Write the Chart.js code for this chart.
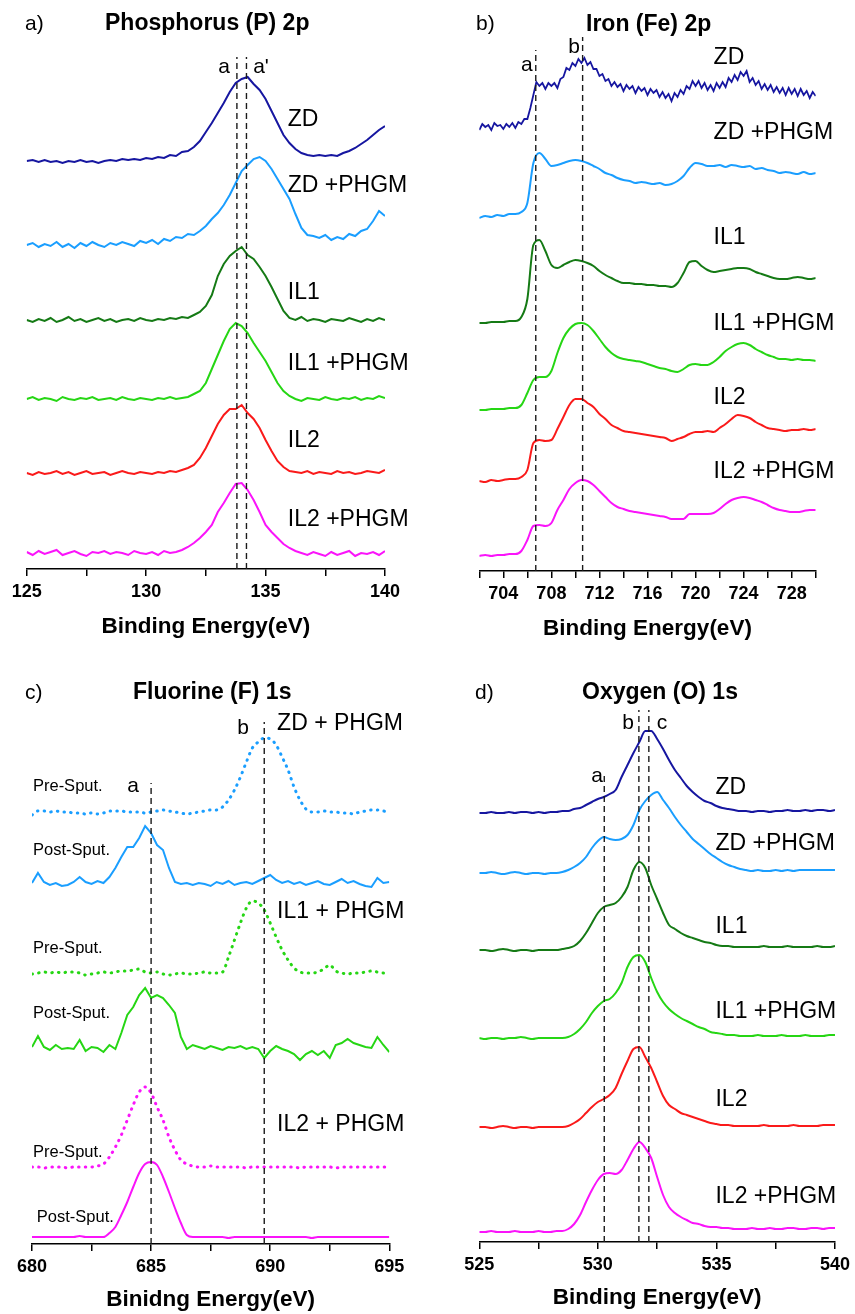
<!DOCTYPE html>
<html>
<head>
<meta charset="utf-8">
<script src="https://cdn.jsdelivr.net/npm/chart.js@4.4.1/dist/chart.umd.min.js"></script>
<style>
html,body{margin:0;padding:0;background:#fff;}
#wrap{position:relative;width:855px;height:1314px;overflow:hidden;background:#fff;}
canvas{position:absolute;}
</style>
</head>
<body>
<div id="wrap">
<canvas id="cA" width="427" height="650" style="left:0;top:0"></canvas>
<canvas id="cB" width="428" height="650" style="left:427px;top:0"></canvas>
<canvas id="cC" width="427" height="657" style="left:0;top:657px"></canvas>
<canvas id="cD" width="428" height="657" style="left:427px;top:657px"></canvas>
</div>
<script>
// ---------------- DATA ----------------
// a) Phosphorus 2p
const energyP = [125,125.25,125.5,125.75,126,126.25,126.5,126.75,127,127.25,127.5,127.75,128,128.25,128.5,128.75,129,129.25,129.5,129.75,130,130.25,130.5,130.75,131,131.25,131.5,131.75,132,132.25,132.5,132.75,133,133.25,133.5,133.75,134,134.25,134.5,134.75,135,135.25,135.5,135.75,136,136.25,136.5,136.75,137,137.25,137.5,137.75,138,138.25,138.5,138.75,139,139.25,139.5,139.75,140];
const P_ZD = [408,409,407,409,407,408,406,408,407,409,407,408,406,408,409,408,410,409,410,409,411,410,412,411,414,413,417,418,422,428,437,446,456,466,477,486,490,492,485,479,470,458,446,434,426,420,416,414,413,414,413,414,413,416,418,421,425,429,434,439,443];
const P_ZD_PHGM = [324,326,322,325,323,327,322,325,321,326,323,327,324,322,326,324,327,325,323,328,326,329,325,330,328,332,331,335,334,338,343,350,356,364,374,386,398,404,410,412,408,400,390,380,370,355,341,334,333,331,334,329,332,330,335,333,338,340,348,358,353];
const P_IL1 = [249,247,250,248,251,247,249,252,248,250,247,249,251,248,250,247,249,250,248,251,249,248,250,249,251,250,252,251,254,257,263,274,293,305,313,318,322,314,310,302,293,282,270,258,251,249,252,248,250,249,247,250,249,248,251,249,247,250,248,251,249];
const P_IL1_PHGM = [170,172,169,171,170,168,172,170,169,171,170,172,169,170,171,169,172,170,169,171,170,169,171,170,172,170,171,172,175,178,186,200,214,228,240,246,243,236,226,217,208,197,186,178,173,170,168,171,170,169,172,170,169,171,170,172,169,171,170,173,171];
const P_IL2 = [96,94,97,95,96,98,95,97,94,96,98,95,96,97,94,96,98,96,95,97,96,95,97,96,98,97,99,101,104,111,121,133,145,154,160,160,164,156,150,141,129,118,108,102,98,97,96,98,95,97,96,95,98,96,97,95,96,98,97,96,99];
const P_IL2_PHGM = [17,14,18,15,17,19,14,16,18,15,13,17,16,18,15,17,16,14,18,16,15,17,14,18,16,17,19,22,26,31,37,44,57,66,76,85,86,79,69,57,44,37,31,25,21,18,16,14,17,15,13,17,14,16,18,13,16,15,17,14,18];
const peaksP = [133.8, 134.2];
const ticksP = [125, 130, 135, 140];

// b) Iron 2p
const energyFeFine = [702,702.25,702.5,702.75,703,703.25,703.5,703.75,704,704.25,704.5,704.75,705,705.25,705.5,705.75,706,706.25,706.5,706.75,707,707.25,707.5,707.75,708,708.25,708.5,708.75,709,709.25,709.5,709.75,710,710.25,710.5,710.75,711,711.25,711.5,711.75,712,712.25,712.5,712.75,713,713.25,713.5,713.75,714,714.25,714.5,714.75,715,715.25,715.5,715.75,716,716.25,716.5,716.75,717,717.25,717.5,717.75,718,718.25,718.5,718.75,719,719.25,719.5,719.75,720,720.25,720.5,720.75,721,721.25,721.5,721.75,722,722.25,722.5,722.75,723,723.25,723.5,723.75,724,724.25,724.5,724.75,725,725.25,725.5,725.75,726,726.25,726.5,726.75,727,727.25,727.5,727.75,728,728.25,728.5,728.75,729,729.25,729.5,729.75,730];
const Fe_ZD = [441,447,444,446,441,448,445,446,442,447,444,448,443,449,447,452,452,463,476,489,485,488,482,488,485,488,483,492,494,503,501,508,505,512,508,513,506,509,502,502,495,497,490,492,485,489,484,487,480,486,482,485,478,484,480,483,476,482,478,481,474,479,473,477,470,478,474,481,477,485,482,490,485,490,483,488,481,486,480,488,483,489,484,493,489,496,491,499,495,500,489,493,486,490,482,487,481,486,479,484,478,483,476,483,477,482,475,482,476,480,473,479,475];
const energyFe = [702,702.5,703,703.5,704,704.5,705,705.5,706,706.5,707,707.5,708,708.5,709,709.5,710,710.5,711,711.5,712,712.5,713,713.5,714,714.5,715,715.5,716,716.5,717,717.5,718,718.5,719,719.5,720,720.5,721,721.5,722,722.5,723,723.5,724,724.5,725,725.5,726,726.5,727,727.5,728,728.5,729,729.5,730];
const Fe_ZD_PHGM = [353,355,354,356,355,357,357,359,368,408,418,412,405,406,408,410,411,410,408,405,402,398,396,393,391,390,388,389,388,387,388,386,387,390,395,403,408,407,405,405,406,404,406,405,404,405,402,403,401,400,398,399,398,397,399,397,398];
const Fe_IL1 = [248,248,249,249,249,250,250,254,272,326,331,320,306,303,306,309,311,310,308,305,300,296,293,290,288,288,287,287,286,286,285,285,284,288,298,309,310,305,301,299,300,301,302,303,303,302,299,297,295,293,292,292,293,294,293,292,293];
const Fe_IL1_PHGM = [161,161,162,162,162,163,163,166,178,191,194,194,200,218,233,242,247,248,246,240,232,224,218,214,212,211,210,209,207,205,203,202,200,199,202,206,207,206,206,209,214,220,224,227,228,226,222,219,216,214,212,212,211,212,211,211,210];
const Fe_IL2 = [90,89,91,90,91,92,92,94,101,128,131,130,131,142,154,166,172,172,168,164,157,152,146,143,140,139,138,137,136,135,134,133,130,132,134,137,139,139,140,139,143,147,152,156,155,153,149,146,143,142,141,140,141,141,142,141,142];
const Fe_IL2_PHGM = [15,16,15,16,16,17,17,20,31,45,46,45,48,61,71,82,88,91,90,86,80,74,68,64,62,60,59,58,57,56,55,54,52,52,52,57,57,57,57,58,62,67,71,73,74,73,71,69,66,63,61,60,59,59,60,61,61];
const peaksFe = [706.7, 710.6];
const ticksFe = [704, 708, 712, 716, 720, 724, 728];

// c) Fluorine 1s
const energyF = [680,680.25,680.5,680.75,681,681.25,681.5,681.75,682,682.25,682.5,682.75,683,683.25,683.5,683.75,684,684.25,684.5,684.75,685,685.25,685.5,685.75,686,686.25,686.5,686.75,687,687.25,687.5,687.75,688,688.25,688.5,688.75,689,689.25,689.5,689.75,690,690.25,690.5,690.75,691,691.25,691.5,691.75,692,692.25,692.5,692.75,693,693.25,693.5,693.75,694,694.25,694.5,694.75,695];
const F_ZD_PHGM_pre = [429,433,433,432,433,432,432,431,431,430,431,430,431,433,433,433,432,432,432,431,432,433,434,433,432,431,430,431,432,433,434,434,437,444,454,467,482,496,502,506,505,499,487,474,457,444,435,432,432,433,432,432,431,431,430,432,433,434,434,433,432];
const F_ZD_PHGM_post = [361,371,362,359,361,358,359,362,367,362,360,363,361,367,376,387,397,397,406,418,411,399,394,376,362,360,361,359,361,360,358,362,360,363,359,361,362,360,363,366,369,364,361,363,360,362,359,361,363,360,359,362,365,361,363,360,358,357,366,361,362];
const F_IL1_PHGM_pre = [270,271,272,271,272,271,272,272,271,269,270,271,272,271,272,273,273,274,275,272,271,272,270,269,270,271,270,270,271,272,271,271,272,287,304,321,336,343,341,334,321,307,294,284,276,272,271,271,272,275,279,273,271,270,271,271,272,273,272,271,271];
const F_IL1_PHGM_post = [197,208,197,194,199,195,196,195,204,193,197,196,192,199,195,211,229,237,249,256,246,249,246,239,231,207,195,199,197,195,198,196,194,197,196,198,195,197,195,186,193,198,195,193,190,184,190,193,189,193,186,199,201,205,201,199,197,196,207,199,192];
const F_IL2_PHGM_pre = [77,77,76,77,77,77,76,77,77,77,77,78,80,87,97,109,124,139,152,157,151,137,124,107,94,84,80,78,77,77,78,77,77,77,77,77,76,77,77,77,77,77,77,77,77,76,77,77,77,77,77,76,77,77,77,77,77,77,77,77,77];
const F_IL2_PHGM_post = [7,7,7,7,7,7,7,7,8,7,7,7,7,11,17,29,42,57,71,80,82,79,67,52,36,21,9,7,7,7,7,7,7,6,7,7,7,7,7,7,7,7,7,7,7,7,7,6,7,7,7,7,7,7,7,7,7,7,7,7,7];
const peaksF = [685.0, 689.75];
const ticksF = [680, 685, 690, 695];

// d) Oxygen 1s
const energyO = [525,525.25,525.5,525.75,526,526.25,526.5,526.75,527,527.25,527.5,527.75,528,528.25,528.5,528.75,529,529.25,529.5,529.75,530,530.25,530.5,530.75,531,531.25,531.5,531.75,532,532.25,532.5,532.75,533,533.25,533.5,533.75,534,534.25,534.5,534.75,535,535.25,535.5,535.75,536,536.25,536.5,536.75,537,537.25,537.5,537.75,538,538.25,538.5,538.75,539,539.25,539.5,539.75,540];
const O_ZD = [429,429,430,429,429,430,429,430,430,429,430,429,430,430,431,431,433,434,437,440,443,445,448,452,465,477,489,500,511,511,503,493,482,472,464,456,450,445,441,439,436,434,433,432,431,431,430,431,431,430,431,431,432,431,431,432,431,432,432,431,432];
const O_ZD_PHGM = [369,369,370,369,368,369,370,369,368,369,369,368,369,369,370,372,375,379,385,394,401,405,403,402,403,407,417,432,441,447,450,442,434,425,417,410,403,398,393,388,384,380,377,375,373,372,371,372,371,371,372,371,372,371,372,372,372,372,372,372,372];
const O_IL1 = [292,292,291,292,293,292,291,292,292,291,292,292,292,292,293,294,296,301,309,319,329,335,337,339,345,355,372,380,374,357,343,329,317,313,309,306,304,302,300,299,297,296,296,295,295,295,295,295,296,295,295,295,296,295,295,295,295,296,295,295,296];
const O_IL1_PHGM = [204,203,204,204,203,204,204,205,204,203,204,204,204,204,204,205,208,213,220,229,236,241,243,249,259,275,285,287,280,264,250,240,233,228,224,221,218,215,213,210,209,208,207,207,206,206,206,207,206,206,206,207,206,206,206,207,206,206,206,207,207];
const O_IL2 = [115,115,114,115,116,115,114,115,115,114,115,115,115,115,115,116,119,123,129,135,140,143,147,154,168,181,193,195,185,174,160,146,137,133,129,127,125,123,121,119,118,117,117,116,116,116,116,116,117,116,116,116,116,117,116,116,116,116,117,117,117];
const O_IL2_PHGM = [10,10,11,10,10,10,11,10,10,10,11,10,10,11,11,13,18,27,40,52,62,68,69,68,72,82,93,100,94,84,65,47,35,29,25,22,19,18,16,15,15,14,14,13,13,13,14,13,13,14,13,13,14,14,13,13,14,14,13,14,14];
const peaksO = [530.27, 531.73, 532.15];
const ticksO = [525, 530, 535, 540];

const seriesNames = ['ZD', 'ZD +PHGM', 'IL1', 'IL1 +PHGM', 'IL2', 'IL2 +PHGM'];

// ---------------- STYLE / BUILD ----------------
const FONT = "'Liberation Sans', Arial, Helvetica, sans-serif";
Chart.defaults.font.family = FONT;
const COL = {navy:'#1616a0', lblue:'#1a9eff', dgreen:'#157a15', green:'#26d614', red:'#fa1a1a', mag:'#fa14fa'};

function spectrum(energies, values, color, extra) {
  return Object.assign({
    data: energies.map((e, i) => ({x: e, y: values[i]})),
    borderColor: color, borderWidth: 2, pointRadius: 0, tension: 0, fill: false
  }, extra || {});
}
function marker(x, top) {
  return {data: [{x: x, y: 0}, {x: x, y: top}], borderColor: '#1a1a1a', borderWidth: 1.4,
          borderDash: [6, 4], pointRadius: 0, fill: false};
}
const dotted = {borderDash: [0.5, 6.2], borderCapStyle: 'round', borderWidth: 3, cubicInterpolationMode: 'monotone'};
const smooth = {cubicInterpolationMode: 'monotone'};

function textPlugin(items) {
  return {
    id: 'txt',
    afterDatasetsDraw(chart) {
      const ctx = chart.ctx, xs = chart.scales.x, ys = chart.scales.y;
      ctx.save();
      items.forEach(it => {
        ctx.font = it.font;
        ctx.fillStyle = it.color || '#000';
        ctx.textAlign = it.align || 'left';
        ctx.textBaseline = 'middle';
        const px = it.abs ? it.x : xs.getPixelForValue(it.x);
        const py = it.abs ? it.y : ys.getPixelForValue(it.y);
        ctx.fillText(it.text, px, py);
      });
      ctx.restore();
    }
  };
}

function makeChart(id, p) {
  new Chart(document.getElementById(id), {
    type: 'line',
    data: {datasets: p.datasets},
    options: {
      responsive: false, animation: false, devicePixelRatio: 1,
      events: [],
      layout: {padding: p.padding},
      plugins: {legend: {display: false}, tooltip: {enabled: false}, title: {display: false}},
      scales: {
        x: {
          type: 'linear', min: p.min, max: p.max,
          afterFit: s => { s.height = p.axisH; },
          ticks: {stepSize: p.step, autoSkip: false, maxRotation: 0, minRotation: 0, padding: 5, color: '#000',
                  font: {family: FONT, size: 18, weight: 'bold'},
                  callback: v => p.ticks.some(t => Math.abs(t - v) < 1e-6) ? String(v) : ''},
          grid: {display: true, drawOnChartArea: false, drawTicks: true, tickLength: 7, color: '#000', lineWidth: 1.5},
          border: {display: true, color: '#000', width: 1.5},
          title: {display: true, text: p.xTitle, color: '#000', font: {family: FONT, size: 22.5, weight: 'bold'},
                  padding: {top: 0, bottom: 1}}
        },
        y: {display: false, min: 0, max: p.ymax}
      }
    },
    plugins: [textPlugin(p.texts)]
  });
}

const LBL = "23px " + FONT;
const SML = "16.5px " + FONT;
const TTL = "bold 23px " + FONT;
const PNL = "21px " + FONT;
const MRK = "21px " + FONT;

// Panel a
makeChart('cA', {
  min: 125, max: 140, step: 2.5, ticks: ticksP, ymax: 549, axisH: 72,
  padding: {left: 26.7, right: 42, top: 20, bottom: 9},
  xTitle: 'Binding Energy(eV)',
  datasets: [
    marker(peaksP[0], 512), marker(peaksP[1], 512),
    spectrum(energyP, P_ZD, COL.navy),
    spectrum(energyP, P_ZD_PHGM, COL.lblue),
    spectrum(energyP, P_IL1, COL.dgreen),
    spectrum(energyP, P_IL1_PHGM, COL.green),
    spectrum(energyP, P_IL2, COL.red),
    spectrum(energyP, P_IL2_PHGM, COL.mag)
  ],
  texts: [
    {abs: true, x: 25, y: 24, text: 'a)', font: PNL},
    {abs: true, x: 105, y: 24, text: 'Phosphorus (P) 2p', font: TTL},
    {x: 135.93, y: 449, text: seriesNames[0], font: LBL},
    {x: 135.93, y: 383, text: seriesNames[1], font: LBL},
    {x: 135.93, y: 276, text: seriesNames[2], font: LBL},
    {x: 135.93, y: 205, text: seriesNames[3], font: LBL},
    {x: 135.93, y: 128, text: seriesNames[4], font: LBL},
    {x: 135.93, y: 49, text: seriesNames[5], font: LBL},
    {x: 133.26, y: 502, text: 'a', font: MRK, align: 'center'},
    {x: 134.81, y: 502, text: "a'", font: MRK, align: 'center'}
  ]
});

// Panel b
makeChart('cB', {
  min: 702, max: 730, step: 2, ticks: ticksFe, ymax: 551, axisH: 72,
  padding: {left: 52.3, right: 39.3, top: 20, bottom: 7},
  xTitle: 'Binding Energy(eV)',
  datasets: [
    marker(peaksFe[0], 521), marker(peaksFe[1], 534),
    spectrum(energyFeFine, Fe_ZD, COL.navy, {borderWidth: 1.8}),
    spectrum(energyFe, Fe_ZD_PHGM, COL.lblue, smooth),
    spectrum(energyFe, Fe_IL1, COL.dgreen, smooth),
    spectrum(energyFe, Fe_IL1_PHGM, COL.green, smooth),
    spectrum(energyFe, Fe_IL2, COL.red, smooth),
    spectrum(energyFe, Fe_IL2_PHGM, COL.mag, smooth)
  ],
  texts: [
    {abs: true, x: 49, y: 24, text: 'b)', font: PNL},
    {abs: true, x: 159, y: 25, text: 'Iron (Fe) 2p', font: TTL},
    {x: 721.5, y: 513, text: seriesNames[0], font: LBL},
    {x: 721.5, y: 438, text: seriesNames[1], font: LBL},
    {x: 721.5, y: 333, text: seriesNames[2], font: LBL},
    {x: 721.5, y: 247, text: seriesNames[3], font: LBL},
    {x: 721.5, y: 173, text: seriesNames[4], font: LBL},
    {x: 721.5, y: 99, text: seriesNames[5], font: LBL},
    {x: 705.96, y: 506, text: 'a', font: MRK, align: 'center'},
    {x: 709.9, y: 524, text: 'b', font: MRK, align: 'center'}
  ]
});

// Panel c
makeChart('cC', {
  min: 680, max: 695, step: 2.5, ticks: ticksF, ymax: 572, axisH: 70,
  padding: {left: 32, right: 37.7, top: 15, bottom: 0},
  xTitle: 'Binidng Energy(eV)',
  datasets: [
    marker(peaksF[0], 461), marker(peaksF[1], 522),
    spectrum(energyF, F_ZD_PHGM_pre, COL.lblue, dotted),
    spectrum(energyF, F_ZD_PHGM_post, COL.lblue),
    spectrum(energyF, F_IL1_PHGM_pre, COL.green, dotted),
    spectrum(energyF, F_IL1_PHGM_post, COL.green),
    spectrum(energyF, F_IL2_PHGM_pre, COL.mag, dotted),
    spectrum(energyF, F_IL2_PHGM_post, COL.mag, smooth)
  ],
  texts: [
    {abs: true, x: 25, y: 36, text: 'c)', font: PNL},
    {abs: true, x: 133, y: 36, text: 'Fluorine (F) 1s', font: TTL},
    {x: 680.04, y: 458, text: 'Pre-Sput.', font: SML},
    {x: 680.04, y: 394, text: 'Post-Sput.', font: SML},
    {x: 680.04, y: 296, text: 'Pre-Sput.', font: SML},
    {x: 680.04, y: 231, text: 'Post-Sput.', font: SML},
    {x: 680.04, y: 92, text: 'Pre-Sput.', font: SML},
    {x: 680.2, y: 27, text: 'Post-Sput.', font: SML},
    {x: 690.29, y: 520, text: 'ZD + PHGM', font: LBL},
    {x: 690.29, y: 332, text: 'IL1 + PHGM', font: LBL},
    {x: 690.29, y: 119, text: 'IL2 + PHGM', font: LBL},
    {x: 684.24, y: 458, text: 'a', font: MRK, align: 'center'},
    {x: 688.86, y: 516, text: 'b', font: MRK, align: 'center'}
  ]
});

// Panel d
makeChart('cD', {
  min: 525, max: 540, step: 2.5, ticks: ticksO, ymax: 570, axisH: 70,
  padding: {left: 52.3, right: 17.7, top: 15, bottom: 2},
  xTitle: 'Binding Energy(eV)',
  datasets: [
    marker(peaksO[0], 470), marker(peaksO[1], 532), marker(peaksO[2], 532),
    spectrum(energyO, O_ZD, COL.navy, smooth),
    spectrum(energyO, O_ZD_PHGM, COL.lblue, smooth),
    spectrum(energyO, O_IL1, COL.dgreen, smooth),
    spectrum(energyO, O_IL1_PHGM, COL.green, smooth),
    spectrum(energyO, O_IL2, COL.red, smooth),
    spectrum(energyO, O_IL2_PHGM, COL.mag, smooth)
  ],
  texts: [
    {abs: true, x: 48, y: 36, text: 'd)', font: PNL},
    {abs: true, x: 155, y: 36, text: 'Oxygen (O) 1s', font: TTL},
    {x: 534.96, y: 454, text: seriesNames[0], font: LBL},
    {x: 534.96, y: 398, text: seriesNames[1], font: LBL},
    {x: 534.96, y: 315, text: seriesNames[2], font: LBL},
    {x: 534.96, y: 230, text: seriesNames[3], font: LBL},
    {x: 534.96, y: 142, text: seriesNames[4], font: LBL},
    {x: 534.96, y: 45, text: seriesNames[5], font: LBL},
    {x: 529.97, y: 466, text: 'a', font: MRK, align: 'center'},
    {x: 531.27, y: 519, text: 'b', font: MRK, align: 'center'},
    {x: 532.7, y: 519, text: 'c', font: MRK, align: 'center'}
  ]
});
</script>
</body>
</html>
